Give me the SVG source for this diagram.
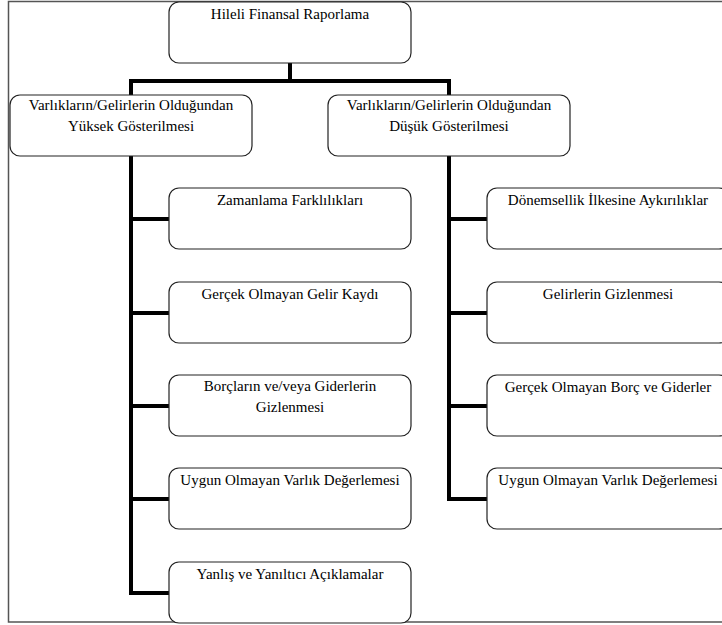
<svg xmlns="http://www.w3.org/2000/svg" width="722" height="625" viewBox="0 0 722 625">
<style>
.box{fill:#fff;stroke:#222;stroke-width:1.2}
text{font-family:'Liberation Serif','DejaVu Serif',serif;font-size:15px;fill:#000;text-anchor:middle}
.c{fill:none;stroke:#000;stroke-width:4}
.frame{fill:none;stroke:#555;stroke-width:1.5}
</style>
<rect width="722" height="625" fill="#fff"/>
<rect class="frame" x="8.5" y="1.5" width="740" height="620.5"/>
<g id="connectors">
<path class="c" d="M290 63V81M131 95V81H449V95"/>
<path class="c" d="M131 156V593H169M131 219H169M131 313H169M131 406H169M131 499H169"/>
<path class="c" d="M449 156V499H487M449 219H487M449 313H487M449 406H487"/>
</g>
<g id="root"><rect class="box" x="169" y="2" width="242" height="61" rx="10"/><text x="290" y="19">Hileli Finansal Raporlama</text></g>
<g id="yuksek"><rect class="box" x="10" y="95" width="242" height="61" rx="10"/><text x="131" y="110">Varlıkların/Gelirlerin Olduğundan</text><text x="131" y="131">Yüksek Gösterilmesi</text></g>
<g id="dusuk"><rect class="box" x="328" y="95" width="242" height="61" rx="10"/><text x="449" y="110">Varlıkların/Gelirlerin Olduğundan</text><text x="449" y="131">Düşük Gösterilmesi</text></g>
<g id="l1"><rect class="box" x="169" y="188" width="242" height="61" rx="10"/><text x="290" y="205">Zamanlama Farklılıkları</text></g>
<g id="l2"><rect class="box" x="169" y="282" width="242" height="61" rx="10"/><text x="290" y="299">Gerçek Olmayan Gelir Kaydı</text></g>
<g id="l3"><rect class="box" x="169" y="375" width="242" height="61" rx="10"/><text x="290" y="391">Borçların ve/veya Giderlerin</text><text x="290" y="412">Gizlenmesi</text></g>
<g id="l4"><rect class="box" x="169" y="468" width="242" height="61" rx="10"/><text x="290" y="485">Uygun Olmayan Varlık Değerlemesi</text></g>
<g id="l5"><rect class="box" x="169" y="562" width="242" height="61" rx="10"/><text x="290" y="579">Yanlış ve Yanıltıcı Açıklamalar</text></g>
<g id="r1"><rect class="box" x="487" y="188" width="242" height="61" rx="10"/><text x="608" y="205">Dönemsellik İlkesine Aykırılıklar</text></g>
<g id="r2"><rect class="box" x="487" y="282" width="242" height="61" rx="10"/><text x="608" y="299">Gelirlerin Gizlenmesi</text></g>
<g id="r3"><rect class="box" x="487" y="375" width="242" height="61" rx="10"/><text x="608" y="392">Gerçek Olmayan Borç ve Giderler</text></g>
<g id="r4"><rect class="box" x="487" y="468" width="242" height="61" rx="10"/><text x="608" y="485">Uygun Olmayan Varlık Değerlemesi</text></g>
</svg>
